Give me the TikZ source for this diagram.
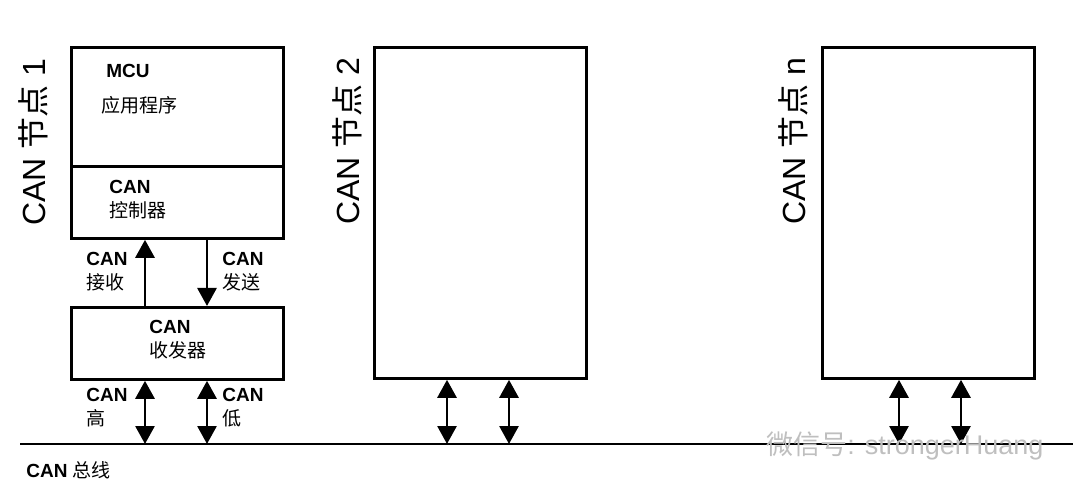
\documentclass[tikz,border=0pt]{standalone}
\usepackage{fontspec}
\setmainfont{Liberation Sans}
\newfontfamily\cjk{Noto Sans CJK SC}
\usepackage{tikz}
\usetikzlibrary{arrows.meta}
\usetikzlibrary{positioning}

\begin{document}
\begin{tikzpicture}[x=1pt,y=-1pt]
      \tikzstyle{every path}=[line width=2.8pt]
      \tikzstyle{blk}=[draw,rectangle,inner sep=0pt,anchor=north west,minimum width=212pt]
      \tikzstyle{lbl}=[inner sep=0pt,anchor=west,align=left,font=\fontsize{19}{24}\selectfont]
      \tikzstyle{side}=[inner sep=0pt,rotate=90,font=\fontsize{32}{32}\selectfont]
      \tikzstyle{arr}=[-{Triangle[width=19pt,length=18pt]}]
      \tikzstyle{biarr}=[{Triangle[width=19pt,length=18pt]}-{Triangle[width=19pt,length=18pt]}]

      \useasboundingbox (0,0) rectangle (1080,497);

      % node 1
      \node [blk,minimum height=119pt] (mcu) at (70,46) {};
      \node [blk,minimum height=72pt] (ctrl) at (70,165) {};
      \node [blk,minimum height=72pt] (trx) at (70,306) {};
      \node [lbl] (mcutxt) at (105,71) {\bfseries MCU};
      \node [lbl] (apptxt) at (100,105) {\cjk 应用程序};
      \node [lbl] (ctrltxt) at (108,200) {\bfseries CAN\\\cjk 控制器};
      \node [lbl] (trxtxt) at (148,340) {\bfseries CAN\\\cjk 收发器};
      \node [side] (name1) at (33,142) {CAN {\cjk 节点} 1};

      % node 2 and node n
      \node [blk,minimum height=331pt] (nodeb) at (373,46) {};
      \node [side] (name2) at (347,141) {CAN {\cjk 节点} 2};
      \node [blk,minimum height=331pt] (noden) at (821,46) {};
      \node [side] (namen) at (793,141) {CAN {\cjk 节点} n};

      % bus
      \coordinate (busL) at (20,444);
      \coordinate (busR) at (1073,444);
      \draw (busL) -- (busR);
      \node [lbl] (bustxt) at (25,470) {\bfseries CAN {\mdseries\cjk 总线}};

      % controller <-> transceiver
      \coordinate (rx) at (145,0);
      \coordinate (tx) at (207,0);
      \draw [arr] (trx.north -| rx) -- (ctrl.south -| rx);
      \draw [arr] (ctrl.south -| tx) -- (trx.north -| tx);
      \node [lbl] (rxtxt) at (85,272) {\bfseries CAN\\\cjk 接收};
      \node [lbl] (txtxt) at (221,272) {\bfseries CAN\\\cjk 发送};

      % transceivers <-> bus
      \coordinate (hi1) at (145,444);
      \coordinate (lo1) at (207,444);
      \coordinate (hi2) at (447,444);
      \coordinate (lo2) at (509,444);
      \coordinate (hin) at (899,444);
      \coordinate (lon) at (961,444);
      \draw [biarr] (trx.south -| hi1) -- (hi1);
      \draw [biarr] (trx.south -| lo1) -- (lo1);
      \draw [biarr] (nodeb.south -| hi2) -- (hi2);
      \draw [biarr] (nodeb.south -| lo2) -- (lo2);
      \draw [biarr] (noden.south -| hin) -- (hin);
      \draw [biarr] (noden.south -| lon) -- (lon);
      \node [lbl] (hitxt) at (85,408) {\bfseries CAN\\\cjk 高};
      \node [lbl] (lotxt) at (221,408) {\bfseries CAN\\\cjk 低};

      % watermark
      \node [inner sep=0pt,anchor=west,text=black!25,font=\fontsize{27}{27}\selectfont] (mark) at (765,446) {{\cjk 微信号}: strongerHuang};
\end{tikzpicture}
\end{document}
